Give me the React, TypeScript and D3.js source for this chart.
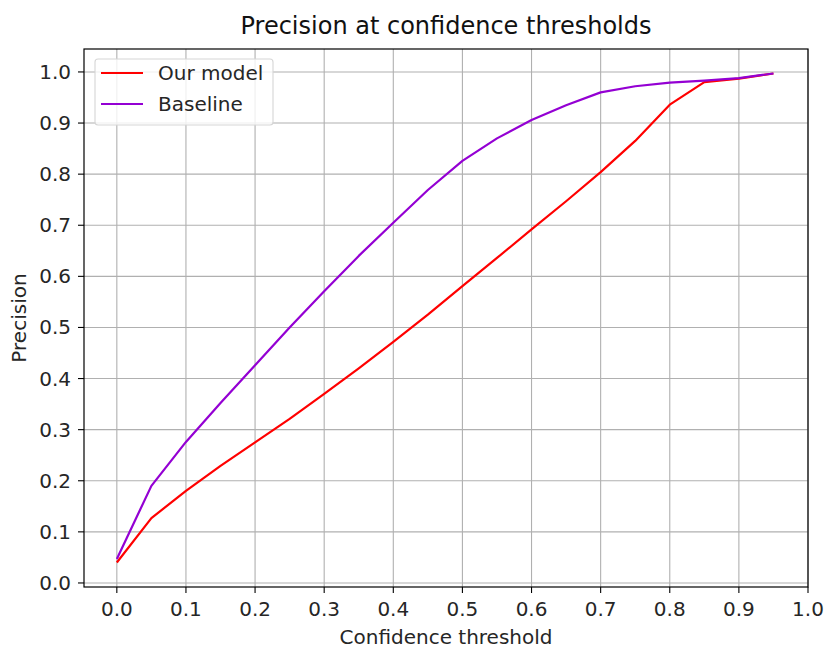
import React from 'react';
import * as d3 from 'd3';

const thresholds = [0, 0.05, 0.1, 0.15, 0.2, 0.25, 0.3, 0.35, 0.4, 0.45, 0.5, 0.55, 0.6, 0.65, 0.7, 0.75, 0.8, 0.85, 0.9, 0.95];
const ourModel = [0.04, 0.127, 0.18, 0.229, 0.275, 0.321, 0.37, 0.42, 0.472, 0.525, 0.581, 0.636, 0.692, 0.747, 0.804, 0.865, 0.936, 0.98, 0.987, 0.997];
const baseline = [0.047, 0.19, 0.276, 0.352, 0.426, 0.5, 0.571, 0.64, 0.705, 0.769, 0.826, 0.87, 0.906, 0.935, 0.96, 0.972, 0.979, 0.983, 0.988, 0.997];
const xTicks = [0, 0.1, 0.2, 0.3, 0.4, 0.5, 0.6, 0.7, 0.8, 0.9, 1.0];
const yTicks = [0, 0.1, 0.2, 0.3, 0.4, 0.5, 0.6, 0.7, 0.8, 0.9, 1.0];

const series = [
  { name: 'Our model', values: ourModel, color: '#ff0000' },
  { name: 'Baseline', values: baseline, color: '#9400d3' },
];

const W = 825;
const H = 648;
const left = 84;
const right = 808;
const top = 49;
const bottom = 587;
const font = '"DejaVu Sans", sans-serif';

const App: React.FC = () => {
  const x = d3.scaleLinear().domain([-0.0475, 1.0]).range([left, right]);
  const y = d3.scaleLinear().domain([-0.0079, 1.0449]).range([bottom, top]);

  const line = d3
    .line<[number, number]>()
    .x((d) => x(d[0]))
    .y((d) => y(d[1]));

  return (
    <svg
      width={W}
      height={H}
      style={{ position: 'absolute', left: 0, top: 0, background: '#fff' }}
      fontFamily={font}
    >
      {/* grid */}
      <g stroke='#b0b0b0' strokeWidth={1.1}>
        {xTicks.map((t) => (
          <line key={'gx' + t} x1={x(t)} x2={x(t)} y1={top} y2={bottom} />
        ))}
        {yTicks.map((t) => (
          <line key={'gy' + t} x1={left} x2={right} y1={y(t)} y2={y(t)} />
        ))}
      </g>

      {/* lines */}
      {series.map((s) => (
        <path
          key={s.name}
          d={line(thresholds.map((t, i) => [t, s.values[i]]) as [number, number][]) || ''}
          fill='none'
          stroke={s.color}
          strokeWidth={2.2}
          strokeLinejoin='round'
        />
      ))}

      {/* frame */}
      <rect x={left} y={top} width={right - left} height={bottom - top} fill='none' stroke='#000' strokeWidth={1.2} />

      {/* x ticks */}
      <g>
        {xTicks.map((t) => (
          <g key={'xt' + t}>
            <line x1={x(t)} x2={x(t)} y1={bottom} y2={bottom + 6} stroke='#000' strokeWidth={1.1} />
            <text x={x(t)} y={bottom + 29} textAnchor='middle' fontSize={20} fill='#262626'>
              {t.toFixed(1)}
            </text>
          </g>
        ))}
      </g>

      {/* y ticks */}
      <g>
        {yTicks.map((t) => (
          <g key={'yt' + t}>
            <line x1={left - 6} x2={left} y1={y(t)} y2={y(t)} stroke='#000' strokeWidth={1.1} />
            <text x={left - 13} y={y(t)} textAnchor='end' dominantBaseline='central' fontSize={20} fill='#262626'>
              {t.toFixed(1)}
            </text>
          </g>
        ))}
      </g>

      {/* labels */}
      <text x={(left + right) / 2} y={34} textAnchor='middle' fontSize={24} fill='#111'>
        Precision at confidence thresholds
      </text>
      <text x={(left + right) / 2} y={644} textAnchor='middle' fontSize={20} fill='#262626'>
        Confidence threshold
      </text>
      <text
        transform={`translate(26, ${(top + bottom) / 2}) rotate(-90)`}
        textAnchor='middle'
        fontSize={20}
        fill='#262626'
      >
        Precision
      </text>

      {/* legend */}
      <g>
        <rect x={95} y={59} width={178} height={66} rx={3} fill='#fff' fillOpacity={0.8} stroke='#d6d6d6' strokeWidth={1.1} />
        {series.map((s, i) => (
          <g key={'lg' + s.name} transform={`translate(0, ${73 + i * 31})`}>
            <line x1={101} x2={143} y1={0} y2={0} stroke={s.color} strokeWidth={2.2} />
            <text x={158} y={0} dominantBaseline='central' fontSize={20} fill='#262626'>
              {s.name}
            </text>
          </g>
        ))}
      </g>
    </svg>
  );
};

export default App;
